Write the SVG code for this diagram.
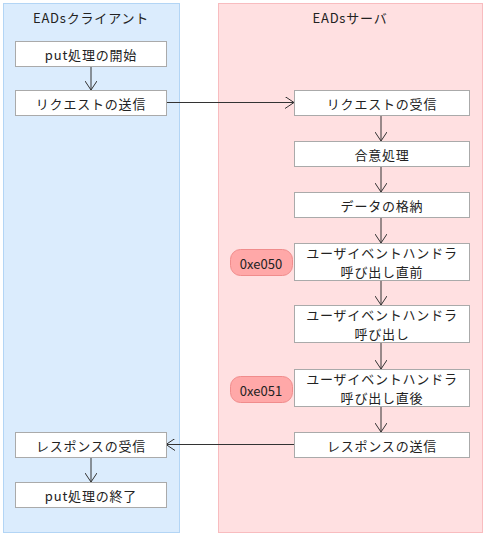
<svg xmlns="http://www.w3.org/2000/svg" width="485" height="536" viewBox="0 0 485 536">
<style>
text{font-family:"Noto Sans CJK JP","Liberation Sans",sans-serif;font-size:13px;letter-spacing:0.8px;fill:#222;text-anchor:middle;dominant-baseline:central}
.badge-t{letter-spacing:0}
.box{fill:#fff;stroke:#aaa;stroke-width:1}
.badge{fill:#ffa8a8;stroke:#f08c8c;stroke-width:1}
.conn{stroke:#333;stroke-width:1;fill:none}
</style>
<defs>
<marker id="arr" viewBox="0 0 10 12" refX="9" refY="6" markerWidth="10" markerHeight="12" markerUnits="userSpaceOnUse" orient="auto">
<path d="M0,0 L9,6 L0,12" fill="none" stroke="#333" stroke-width="1"/>
</marker>
</defs>
<g id="lane-client">
<rect x="3.5" y="3.5" width="176" height="529" fill="#dbecfd" stroke="#b3d5f5"/>
<text x="91" y="17">EADsクライアント</text>
</g>
<g id="lane-server">
<rect x="218.5" y="3.5" width="264" height="529" fill="#ffe0e1" stroke="#f8bcbf"/>
<text x="350" y="17">EADsサーバ</text>
</g>
<g id="connectors">
<line class="conn" x1="91" y1="66" x2="91" y2="90" marker-end="url(#arr)"/>
<line class="conn" x1="166" y1="102.5" x2="294" y2="102.5" marker-end="url(#arr)"/>
<line class="conn" x1="381" y1="115" x2="381" y2="141" marker-end="url(#arr)"/>
<line class="conn" x1="381" y1="166" x2="381" y2="192" marker-end="url(#arr)"/>
<line class="conn" x1="381" y1="217" x2="381" y2="243" marker-end="url(#arr)"/>
<line class="conn" x1="381" y1="280" x2="381" y2="305" marker-end="url(#arr)"/>
<line class="conn" x1="381" y1="343" x2="381" y2="369" marker-end="url(#arr)"/>
<line class="conn" x1="381" y1="407" x2="381" y2="432" marker-end="url(#arr)"/>
<line class="conn" x1="294" y1="444.5" x2="166" y2="444.5" marker-end="url(#arr)"/>
<line class="conn" x1="91" y1="457" x2="91" y2="482" marker-end="url(#arr)"/>
</g>
<g id="n-put-start">
<rect class="box" x="15.5" y="41.5" width="151" height="25"/>
<text x="91" y="54">put処理の開始</text>
</g>
<g id="n-req-send">
<rect class="box" x="15.5" y="90.5" width="151" height="25"/>
<text x="91" y="103">リクエストの送信</text>
</g>
<g id="n-req-recv">
<rect class="box" x="294.5" y="90.5" width="175" height="25"/>
<text x="382" y="103">リクエストの受信</text>
</g>
<g id="n-consensus">
<rect class="box" x="294.5" y="141.5" width="175" height="25"/>
<text x="382" y="154">合意処理</text>
</g>
<g id="n-store">
<rect class="box" x="294.5" y="192.5" width="175" height="25"/>
<text x="382" y="205">データの格納</text>
</g>
<g id="n-handler-before">
<rect class="box" x="294.5" y="243.5" width="175" height="37"/>
<text x="382" y="252.5">ユーザイベントハンドラ</text>
<text x="382" y="271.5">呼び出し直前</text>
</g>
<g id="badge-0xe050">
<rect class="badge" x="230.5" y="249.5" width="62" height="26" rx="10"/>
<text class="badge-t" x="261" y="263">0xe050</text>
</g>
<g id="n-handler-call">
<rect class="box" x="294.5" y="305.5" width="175" height="37"/>
<text x="382" y="314.5">ユーザイベントハンドラ</text>
<text x="382" y="333.5">呼び出し</text>
</g>
<g id="n-handler-after">
<rect class="box" x="294.5" y="369.5" width="175" height="37"/>
<text x="382" y="378.5">ユーザイベントハンドラ</text>
<text x="382" y="397.5">呼び出し直後</text>
</g>
<g id="badge-0xe051">
<rect class="badge" x="230.5" y="376.5" width="62" height="26" rx="10"/>
<text class="badge-t" x="261" y="390">0xe051</text>
</g>
<g id="n-resp-send">
<rect class="box" x="294.5" y="432.5" width="175" height="25"/>
<text x="382" y="445">レスポンスの送信</text>
</g>
<g id="n-resp-recv">
<rect class="box" x="15.5" y="432.5" width="151" height="25"/>
<text x="91" y="445">レスポンスの受信</text>
</g>
<g id="n-put-end">
<rect class="box" x="15.5" y="482.5" width="151" height="25"/>
<text x="91" y="495">put処理の終了</text>
</g>
</svg>
